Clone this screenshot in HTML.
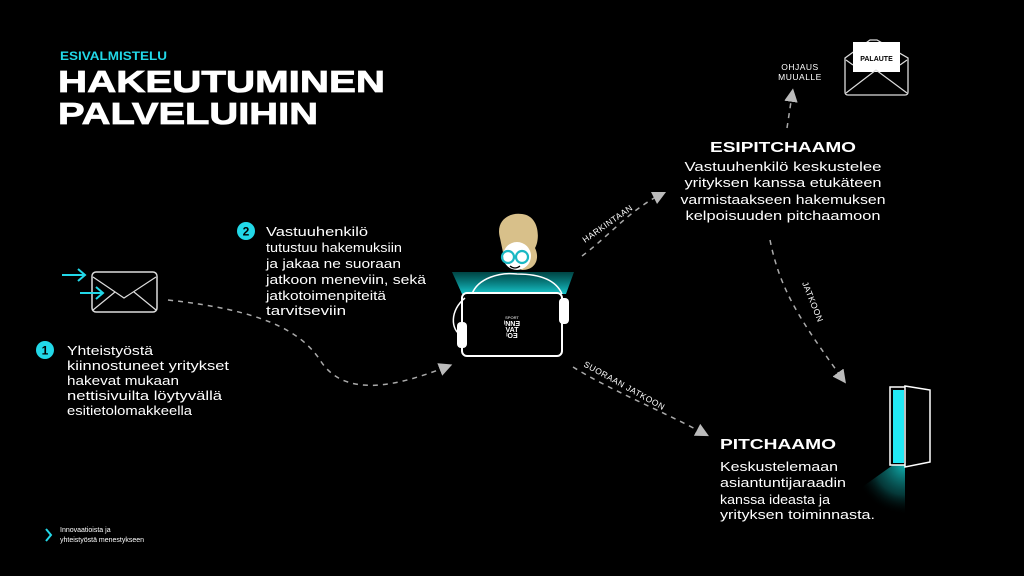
<!DOCTYPE html>
<html><head><meta charset="utf-8"><style>
html,body{margin:0;padding:0;background:#000;}
svg{display:block}
text{font-family:"Liberation Sans","DejaVu Sans",sans-serif;fill:#fff}
.b{font-size:12.5px}
.h{font-weight:bold}
</style></head><body>
<svg width="1024" height="576" viewBox="0 0 1024 576" xmlns="http://www.w3.org/2000/svg">
<defs>
<linearGradient id="lg" x1="0" y1="0" x2="0" y2="1"><stop offset="0" stop-color="#0aa" stop-opacity="0.4"/><stop offset="1" stop-color="#1ad0d6" stop-opacity="0.95"/></linearGradient>
<radialGradient id="dg" cx="905" cy="465" r="50" gradientUnits="userSpaceOnUse"><stop offset="0" stop-color="#1bb" stop-opacity="0.95"/><stop offset="0.6" stop-color="#0a7070" stop-opacity="0.5"/><stop offset="1" stop-color="#000" stop-opacity="0"/></radialGradient>
<marker id="ah" viewBox="0 0 10 10" refX="5" refY="5" markerWidth="9" markerHeight="9" orient="auto"><path d="M0,0 L10,5 L0,10 z" fill="#bbb"/></marker>
</defs>
<rect width="1024" height="576" fill="#000"/>

<text x="60" y="60" class="h" font-size="12" style="fill:#22d8e8" textLength="107" lengthAdjust="spacingAndGlyphs">ESIVALMISTELU</text>
<text x="58" y="92" class="h" font-size="31" textLength="327" lengthAdjust="spacingAndGlyphs" stroke="#fff" stroke-width="0.8">HAKEUTUMINEN</text>
<text x="58" y="124" class="h" font-size="31" textLength="260" lengthAdjust="spacingAndGlyphs" stroke="#fff" stroke-width="0.8">PALVELUIHIN</text>

<rect x="92" y="272" width="65" height="40" rx="4" fill="none" stroke="#ddd" stroke-width="1.5"/>
<path d="M93,277 L124,298 L156,277 M93,310 L115,292 M156,310 L134,292" fill="none" stroke="#ddd" stroke-width="1.2"/>
<path d="M62,275 H84 M78,269 L85,275 L78,281 M80,293 H102 M96,287 L103,293 L96,299" fill="none" stroke="#22d8e8" stroke-width="2"/>

<circle cx="45" cy="350" r="9" fill="#22d8e8"/>
<text x="45" y="354.5" font-size="12" class="h" text-anchor="middle" style="fill:#000">1</text>
<g class="b">
<text x="67" y="355" textLength="86" lengthAdjust="spacingAndGlyphs">Yhteistyöstä</text>
<text x="67" y="370" textLength="162" lengthAdjust="spacingAndGlyphs">kiinnostuneet yritykset</text>
<text x="67" y="385" textLength="112" lengthAdjust="spacingAndGlyphs">hakevat mukaan</text>
<text x="67" y="400" textLength="155" lengthAdjust="spacingAndGlyphs">nettisivuilta löytyvällä</text>
<text x="67" y="415" textLength="125" lengthAdjust="spacingAndGlyphs">esitietolomakkeella</text>
</g>

<circle cx="246" cy="231" r="9" fill="#22d8e8"/>
<text x="246" y="235.5" font-size="12" class="h" text-anchor="middle" style="fill:#000">2</text>
<g class="b">
<text x="266" y="236" textLength="102" lengthAdjust="spacingAndGlyphs">Vastuuhenkilö</text>
<text x="266" y="252" textLength="136" lengthAdjust="spacingAndGlyphs">tutustuu hakemuksiin</text>
<text x="266" y="268" textLength="135" lengthAdjust="spacingAndGlyphs">ja jakaa ne suoraan</text>
<text x="266" y="284" textLength="160" lengthAdjust="spacingAndGlyphs">jatkoon meneviin, sekä</text>
<text x="266" y="300" textLength="120" lengthAdjust="spacingAndGlyphs">jatkotoimenpiteitä</text>
<text x="266" y="315" textLength="80" lengthAdjust="spacingAndGlyphs">tarvitseviin</text>
</g>

<path d="M168,300 C260,310 300,330 320,360 C345,400 400,385 446,367" fill="none" stroke="#aaa" stroke-width="1.5" stroke-dasharray="5,5" marker-end="url(#ah)"/>

<polygon points="452,272 574,272 566,294 462,294" fill="url(#lg)"/>
<path d="M500,238 C495,220 510,212 522,214 C540,216 540,240 535,248 C540,258 536,270 522,270 L505,262 Z" fill="#d8c08a"/>
<ellipse cx="517" cy="256" rx="14" ry="14" fill="#fff"/>
<path d="M500,228 C505,216 528,214 534,232 C524,226 510,230 500,238 Z" fill="#d8c08a"/>
<circle cx="508" cy="257" r="6" fill="none" stroke="#1ab8c4" stroke-width="2.2"/>
<circle cx="522" cy="257" r="6" fill="none" stroke="#1ab8c4" stroke-width="2.2"/>
<path d="M510,266 Q515,270 520,266" fill="none" stroke="#000" stroke-width="1.2"/>
<path d="M472,294 C478,278 500,272 517,274 C540,274 556,280 562,294" fill="none" stroke="#fff" stroke-width="1.5"/>
<rect x="462" y="293" width="100" height="63" rx="5" fill="#000" stroke="#fff" stroke-width="2"/>
<path d="M465,298 C450,310 450,330 462,336" fill="none" stroke="#fff" stroke-width="1.5"/>
<rect x="457" y="322" width="10" height="26" rx="4" fill="#fff"/>
<rect x="559" y="298" width="10" height="26" rx="4" fill="#fff"/>
<text x="512" y="319" font-size="4" text-anchor="middle">SPORT</text>
<text x="512" y="326" font-size="7" class="h" text-anchor="middle">ᴵNNƎ</text>
<text x="512" y="332" font-size="7" class="h" text-anchor="middle">VAT</text>
<text x="512" y="338" font-size="7" class="h" text-anchor="middle">ᴵOƎ</text>

<path d="M582,256 C610,235 630,210 660,195" fill="none" stroke="#aaa" stroke-width="1.5" stroke-dasharray="5,5" marker-end="url(#ah)"/>
<text x="0" y="0" font-size="8.5" transform="translate(585,243) rotate(-35)" letter-spacing="0.5">HARKINTAAN</text>

<path d="M573,367 C610,390 660,410 703,433" fill="none" stroke="#aaa" stroke-width="1.5" stroke-dasharray="5,5" marker-end="url(#ah)"/>
<text x="0" y="0" font-size="8.5" transform="translate(583,366) rotate(29)" letter-spacing="0.5">SUORAAN JATKOON</text>

<text x="783" y="152" class="h" font-size="15" text-anchor="middle" textLength="146" lengthAdjust="spacingAndGlyphs">ESIPITCHAAMO</text>
<g class="b" text-anchor="middle">
<text x="783" y="171" textLength="197" lengthAdjust="spacingAndGlyphs">Vastuuhenkilö keskustelee</text>
<text x="783" y="187" textLength="197" lengthAdjust="spacingAndGlyphs">yrityksen kanssa etukäteen</text>
<text x="783" y="204" textLength="205" lengthAdjust="spacingAndGlyphs">varmistaakseen hakemuksen</text>
<text x="783" y="220" textLength="195" lengthAdjust="spacingAndGlyphs">kelpoisuuden pitchaamoon</text>
</g>

<path d="M787,128 L792,95" fill="none" stroke="#aaa" stroke-width="1.5" stroke-dasharray="5,5" marker-end="url(#ah)"/>
<text x="800" y="70" font-size="8.5" text-anchor="middle" letter-spacing="0.5">OHJAUS</text>
<text x="800" y="80" font-size="8.5" text-anchor="middle" letter-spacing="0.5">MUUALLE</text>
<path d="M845,58 L870,40 L877,40 L908,58 V92 Q908,95 905,95 H848 Q845,95 845,92 Z" fill="none" stroke="#ddd" stroke-width="1.3"/>
<rect x="853" y="42" width="47" height="30" fill="#fff"/>
<path d="M853,72 L876,60 L900,72 Z" fill="#fff"/>
<path d="M846,93 L876,70 L907,93 M846,60 L853,65 M907,60 L900,65" fill="none" stroke="#ddd" stroke-width="1.2"/>
<text x="876.5" y="61" font-size="7" class="h" text-anchor="middle" style="fill:#000">PALAUTE</text>

<path d="M770,240 C780,290 800,320 842,378" fill="none" stroke="#aaa" stroke-width="1.5" stroke-dasharray="5,5" marker-end="url(#ah)"/>
<text x="0" y="0" font-size="8.5" transform="translate(802,283) rotate(68)" letter-spacing="0.5">JATKOON</text>

<polygon points="893,465 905,465 905,515 872,515 858,490" fill="url(#dg)"/>
<rect x="890" y="387" width="16" height="78" fill="none" stroke="#fff" stroke-width="1.5"/>
<rect x="893" y="390" width="11" height="73" fill="#22e8f4"/>
<polygon points="905,386 930,390 930,462 905,467" fill="#000" stroke="#fff" stroke-width="1.5"/>

<text x="720" y="449" class="h" font-size="15" textLength="116" lengthAdjust="spacingAndGlyphs">PITCHAAMO</text>
<g class="b">
<text x="720" y="471" textLength="118" lengthAdjust="spacingAndGlyphs">Keskustelemaan</text>
<text x="720" y="487" textLength="126" lengthAdjust="spacingAndGlyphs">asiantuntijaraadin</text>
<text x="720" y="504" textLength="110" lengthAdjust="spacingAndGlyphs">kanssa ideasta ja</text>
<text x="720" y="519" textLength="155" lengthAdjust="spacingAndGlyphs">yrityksen toiminnasta.</text>
</g>

<path d="M46,529 L51,535 L46,541" fill="none" stroke="#22d8e8" stroke-width="2"/>
<text x="60" y="532" font-size="7">Innovaatioista ja</text>
<text x="60" y="542" font-size="7">yhteistyöstä menestykseen</text>
</svg>
</body></html>
